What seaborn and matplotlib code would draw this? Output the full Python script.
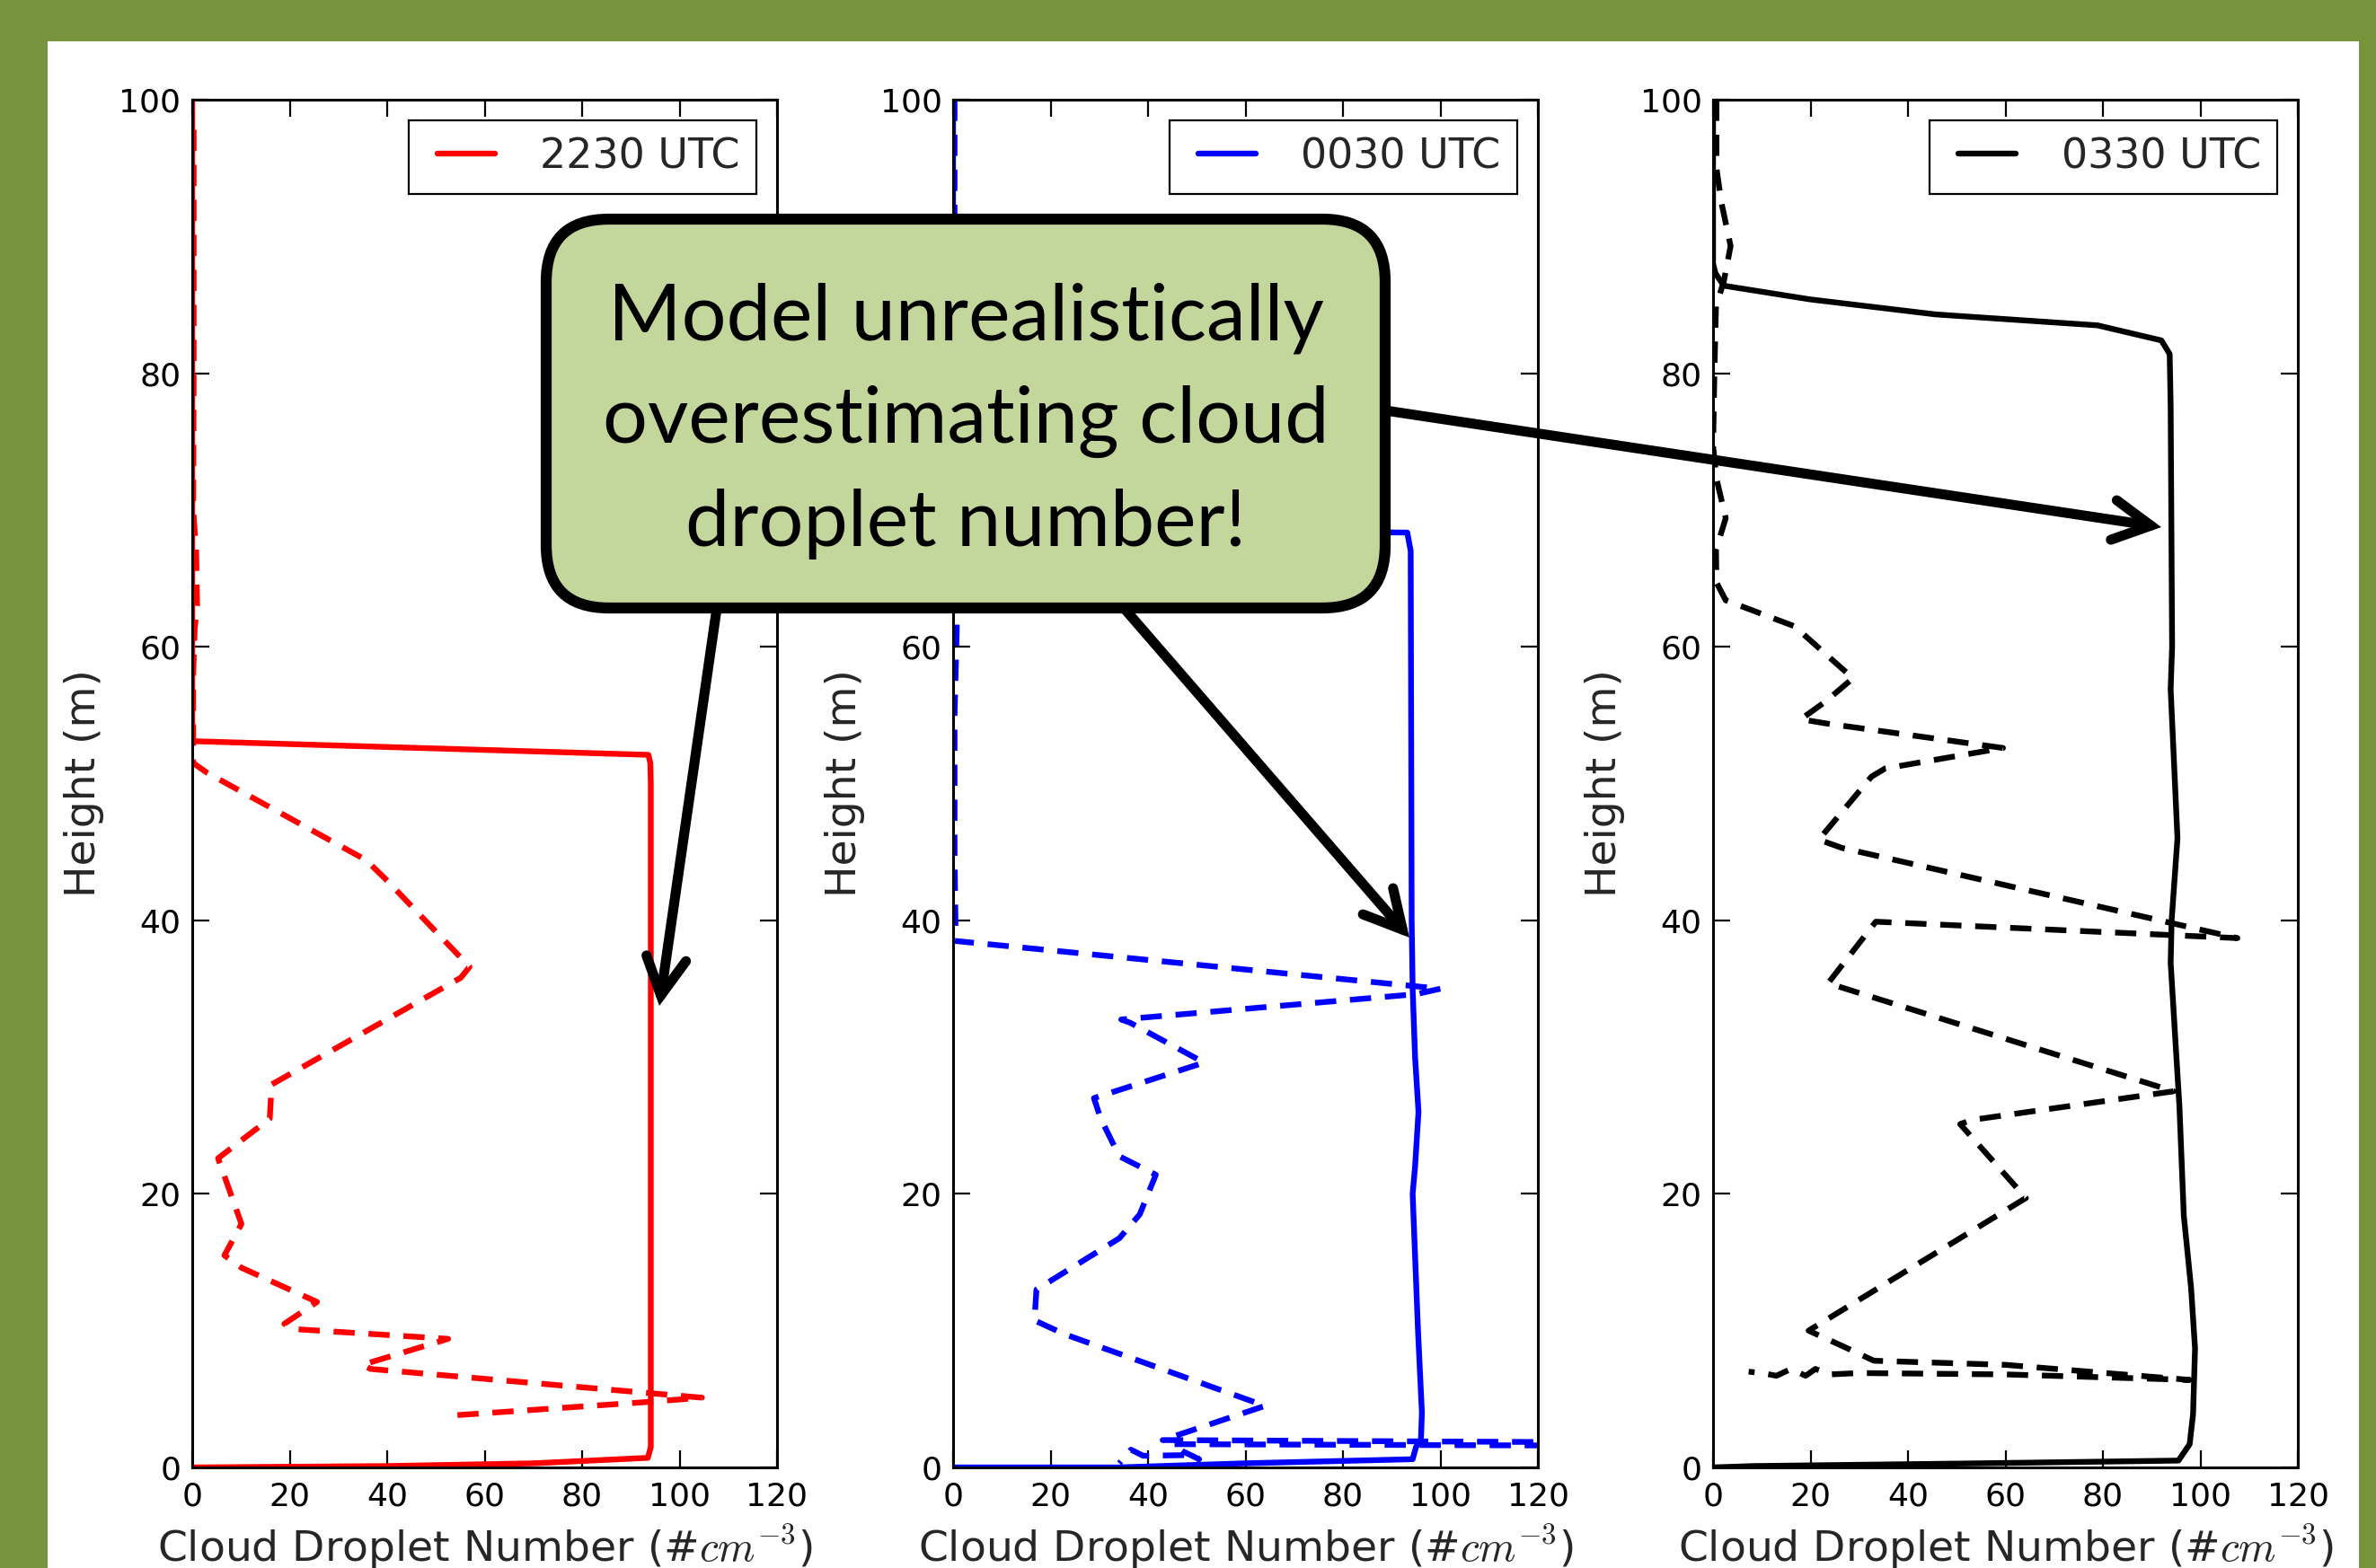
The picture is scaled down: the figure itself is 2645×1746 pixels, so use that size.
import matplotlib
matplotlib.use("Agg")
import matplotlib.pyplot as plt
import seaborn as sns
from matplotlib.patches import FancyBboxPatch, FancyArrowPatch, Rectangle

# ---------------- data ----------------
legend_labels = ["2230 UTC", "0030 UTC", "0330 UTC"]
line_colors = ["red", "blue", "black"]
x_ticks = [0, 20, 40, 60, 80, 100, 120]
y_ticks = [0, 20, 40, 60, 80, 100]

# 2230 UTC
red_solid_x = [0, 40, 70, 93.5, 94.1, 94.1, 94.0, 93.6, 0, 0]
red_solid_y = [0, 0.1, 0.3, 0.7, 1.5, 50.0, 51.5, 52.1, 53.1, 100]
red_dash_x = [0.3, 0.3, 0.2, 0.8, 1.0, 0.5, 0.2, 0.2, 3.0, 35.7, 40.0, 56.9, 55.1,
              16.3, 15.9, 5.3, 10.1, 6.6, 10.1, 25.6, 18.9, 21.6, 52.5, 34.9,
              36.6, 104.6, 94.0, 53.4]
red_dash_y = [97.8, 80.0, 70.0, 67.0, 63.0, 61.3, 58.0, 51.5, 50.8, 44.4, 42.9, 36.6,
              35.8, 28.0, 25.5, 22.6, 17.8, 15.5, 14.6, 12.1, 10.5, 10.1, 9.4, 7.5,
              7.2, 5.1, 4.8, 3.8]

# 0030 UTC
blue_solid_x = [0, 0, 50, 93.2, 93.9, 94.1, 94.3, 94.8, 95.5, 94.8, 94.3, 95.4,
                96.2, 96.0, 95.0, 94.3, 60, 34, 0]
blue_solid_y = [100, 68.6, 68.5, 68.35, 67.0, 40, 35, 30, 26, 22, 20, 10, 4, 2,
                1.5, 0.6, 0.3, 0.0, 0]
blue_dash_x = [0.3, 0.3, 0.5, 0.5, 0.8, 0.3, 0.3, 0.5, 0.2, 100.0, 95.0, 34.5,
               36.4, 51.5, 28.9, 30.3, 34.1, 41.6, 38.3, 34.1, 17.1, 16.7, 22.8,
               64.0, 43.0, 125, 125, 45, 47, 50.5, 48, 39, 36.5, 34.1]
blue_dash_y = [100, 92, 75, 65, 62, 55, 45, 39.5, 38.5, 35.0, 34.6, 32.75, 32.5,
               29.6, 27.0, 25.5, 22.75, 21.4, 18.5, 16.75, 13.0, 10.75, 9.75, 4.5,
               2.0, 1.85, 1.6, 1.7, 1.2, 0.6, 0.9, 0.85, 1.3, 0.3]

# 0330 UTC
black_solid_x = [0, 0, 0.5, 2.2, 19.9, 45.7, 78.9, 92.0, 93.7, 93.9, 94.2, 93.9,
                 95.3, 94.1, 93.9, 95.7, 96.6, 98.1, 98.9, 98.5, 97.8, 95.5, 54.9,
                 8.2, 0]
black_solid_y = [100, 88, 87.3, 86.4, 85.4, 84.3, 83.5, 82.4, 81.4, 77.6, 60, 56.9,
                 46, 40, 36.9, 26.4, 18.4, 13.1, 8.7, 3.9, 1.7, 0.5, 0.3, 0.1, 0]
black_dash_x = [0.7, 0.7, 1.7, 3.6, 2.2, 0.6, 0.3, 0.0, 0.7, 2.6, 0.6, 0.7, 2.6,
                16.7, 28.7, 23.1, 18.0, 23.1, 59.5, 35.3, 32.5, 21.7, 26.4, 107.6,
                33.4, 23.6, 94.5, 53.0, 50.7, 64.2, 19.6, 27.0, 33.0, 60.0, 97.8,
                60.0, 30.0, 24.0, 21.0, 19.0, 16.0, 13.0, 10.0, 7.3]
black_dash_y = [100, 95, 92.5, 89.3, 86.7, 84.9, 80.5, 74.7, 72.3, 69.4, 67.1, 64.7,
                63.4, 61.5, 57.7, 56.0, 54.7, 54.4, 52.6, 51.1, 50.5, 45.9, 45.3,
                38.7, 39.9, 35.4, 27.5, 25.4, 25.1, 19.7, 10.0, 8.8, 7.8, 7.5, 6.4,
                6.8, 6.9, 6.8, 7.2, 6.7, 7.2, 6.7, 6.9, 7.0]

solid_x = [red_solid_x, blue_solid_x, black_solid_x]
solid_y = [red_solid_y, blue_solid_y, black_solid_y]
dash_x = [red_dash_x, blue_dash_x, black_dash_x]
dash_y = [red_dash_y, blue_dash_y, black_dash_y]

callout_lines = ["Model unrealistically", "overestimating cloud", "droplet number!"]

# ---------------- figure ----------------
W, H = 2645, 1746
DPI = 100
sns.set_theme(style="ticks")
plt.rcParams["font.family"] = ["DejaVu Sans"]
plt.rcParams["mathtext.fontset"] = "cm"
plt.rcParams["axes.linewidth"] = 2.2

fig = plt.figure(figsize=(W / DPI, H / DPI), dpi=DPI, facecolor="#77933C")
fig.add_artist(Rectangle((53 / W, 0), (2626 - 53) / W, (H - 46) / H,
                         transform=fig.transFigure, facecolor="white",
                         edgecolor="none", zorder=-5))

ax_left_px = [214, 1061, 1907]
ax_w_px = 651
ax_top_px, ax_bot_px = 111, 1634

axes = []
for i in range(3):
    ax = fig.add_axes([ax_left_px[i] / W, (H - ax_bot_px) / H,
                       ax_w_px / W, (ax_bot_px - ax_top_px) / H])
    axes.append(ax)
    ax.set_facecolor("white")
    sns.lineplot(x=solid_x[i], y=solid_y[i], sort=False, estimator=None, ax=ax,
                 color=line_colors[i], linewidth=4.6, label=legend_labels[i])
    sns.lineplot(x=dash_x[i], y=dash_y[i], sort=False, estimator=None, ax=ax,
                 color=line_colors[i], linewidth=4.6, linestyle="--")
    ax.lines[-1].set_dashes([3.7, 2.4])
    ax.set_xlim(0, 120)
    ax.set_ylim(0, 100)
    ax.set_xticks(x_ticks)
    ax.set_yticks(y_ticks)
    ax.tick_params(direction="in", length=14, width=1.6, top=True, right=True,
                   labelsize=26, colors="black")
    ax.tick_params(axis="x", pad=11)
    ax.tick_params(axis="y", pad=9)
    for sp in ax.spines.values():
        sp.set_linewidth(2.2)
        sp.set_color("black")
    ax.set_xlabel(r"Cloud Droplet Number (#$cm^{-3}$)", fontsize=34)
    ax.set_ylabel("Height (m)", fontsize=34)
    ax.xaxis.set_label_coords(0.5, -0.040)
    ax.yaxis.set_label_coords(-0.150, 0.5)
    handles = [ax.lines[0]]
    leg = ax.legend(handles, [legend_labels[i]], loc="upper right", fontsize=33,
                    numpoints=2, handlelength=2.0, handletextpad=0.8,
                    borderpad=0.4, borderaxespad=0.5, fancybox=False,
                    framealpha=1, edgecolor="black", shadow=False)
    leg.get_frame().set_linewidth(1.6)

# the middle panel's "80" label lies fully under the call-out box in the reference
fig.canvas.draw()
for lab in axes[1].get_yticklabels():
    if lab.get_text() == "80":
        lab.set_visible(False)

# ---------------- call-out overlay (pixel coordinates) ----------------
ov = fig.add_axes([0, 0, 1, 1], zorder=10)
ov.set_xlim(0, W)
ov.set_ylim(H, 0)
ov.axis("off")
ov.patch.set_alpha(0)

arrow_kw = dict(arrowstyle="->,head_length=0.30,head_width=0.16",
                mutation_scale=100, lw=8.0, color="black", capstyle="round",
                joinstyle="miter", shrinkA=0, shrinkB=0, zorder=1)
for start, tip in [((799, 670), (734, 1120)),
                   ((1245, 670), (1569, 1044)),
                   ((1535, 456), (2406, 587))]:
    ov.add_patch(FancyArrowPatch(start, tip, **arrow_kw))

box = FancyBboxPatch((608, 244), 934, 433,
                     boxstyle="round,pad=0,rounding_size=70",
                     facecolor="#C3D69B", edgecolor="black", linewidth=8.8,
                     zorder=2)
ov.add_patch(box)

baselines = [378, 493, 608]
texts = [ov.text(1075, b, s, ha="center", va="baseline", fontfamily="Lato",
                 fontsize=60, color="black", zorder=3)
         for s, b in zip(callout_lines, baselines)]
renderer = fig.canvas.get_renderer()
wpx = texts[1].get_window_extent(renderer).width
fs = 60 * 809.0 / wpx
for t in texts:
    t.set_fontsize(fs)

fig.savefig("out.png", dpi=DPI, facecolor=fig.get_facecolor())
